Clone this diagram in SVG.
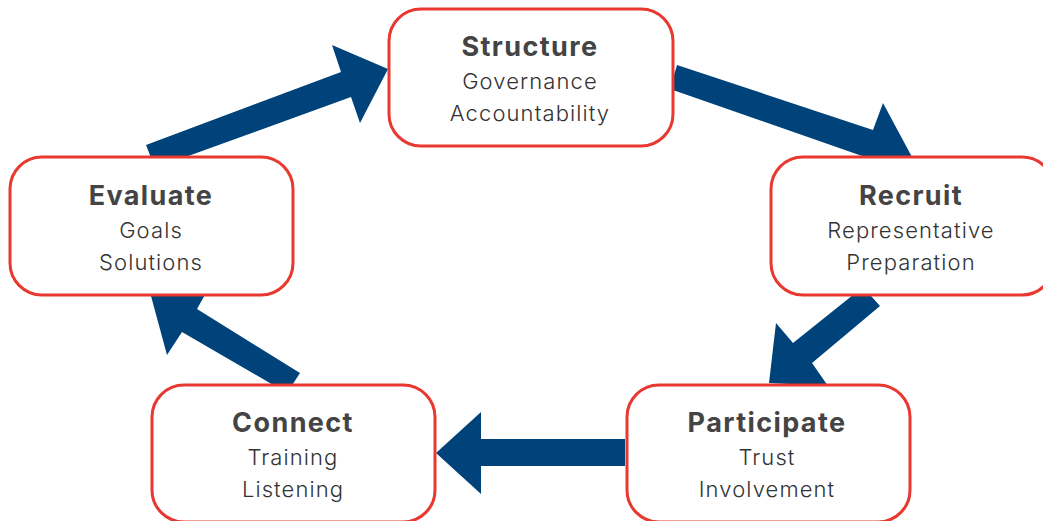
<svg xmlns="http://www.w3.org/2000/svg" width="1043" height="521" viewBox="0 0 1043 521">
  <style>
    .box { fill: #ffffff; stroke: #e8382f; stroke-width: 3; }
    .title { font-family: Inter, "Open Sans", "Liberation Sans", sans-serif; font-weight: 700; font-size: 27px; letter-spacing: 1.4px; fill: #444444; text-anchor: middle; }
    .sub { font-family: Inter, "Open Sans", "Liberation Sans", sans-serif; font-weight: 300; font-size: 22px; letter-spacing: 1.1px; fill: #333333; text-anchor: middle; }
    .arrow { fill: #00427a; }
  </style>
  <rect width="1043" height="521" fill="#ffffff"/>

  <!-- cycle connectors: block arrows -->
  <g id="connectors">
    <polygon class="arrow" points="146,145 341,72 332,45 388,69 360,123 351,97 155,168"/>
    <polygon class="arrow" points="677,65 873,130 883,103 912,157 858,180 865,157 670,89"/>
    <polygon class="arrow" points="863,287 793,343 776,323 769,383 828,386 812,363 880,306"/>
    <polygon class="arrow" points="625,439 481,439 481,412 436,453 481,494 481,466 625,466"/>
    <polygon class="arrow" points="300,373 197,309 211,284 151,296 167,355 182,332 287,393"/>
  </g>

  <g id="structure">
    <rect class="box" x="389" y="9" width="284" height="137" rx="32"/>
    <text class="title" x="530" y="56">Structure</text>
    <text class="sub" x="530" y="89">Governance</text>
    <text class="sub" x="530" y="121">Accountability</text>
  </g>

  <g id="recruit">
    <rect class="box" x="771" y="157" width="283" height="138" rx="32"/>
    <text class="title" x="911" y="205">Recruit</text>
    <text class="sub" x="911" y="238">Representative</text>
    <text class="sub" x="911" y="270">Preparation</text>
  </g>

  <g id="participate">
    <rect class="box" x="627" y="385" width="283" height="137" rx="32"/>
    <text class="title" x="767" y="432">Participate</text>
    <text class="sub" x="767" y="465">Trust</text>
    <text class="sub" x="767" y="497">Involvement</text>
  </g>

  <g id="connect">
    <rect class="box" x="152" y="385" width="283" height="137" rx="32"/>
    <text class="title" x="293" y="432">Connect</text>
    <text class="sub" x="293" y="465">Training</text>
    <text class="sub" x="293" y="497">Listening</text>
  </g>

  <g id="evaluate">
    <rect class="box" x="10" y="157" width="283" height="138" rx="32"/>
    <text class="title" x="151" y="205">Evaluate</text>
    <text class="sub" x="151" y="238">Goals</text>
    <text class="sub" x="151" y="270">Solutions</text>
  </g>
</svg>
